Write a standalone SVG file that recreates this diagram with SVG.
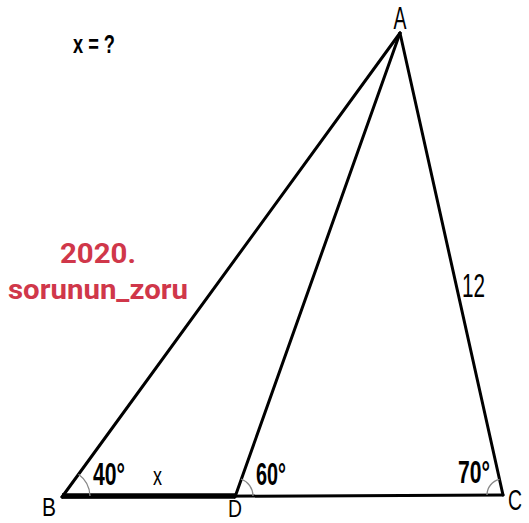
<svg xmlns="http://www.w3.org/2000/svg" width="529" height="523" viewBox="0 0 529 523">
<style>
.ln{stroke:#000;stroke-width:3;fill:none;stroke-linecap:round}
.arc{stroke:#888;stroke-width:1.3;fill:none}
.lbl{font-family:"Liberation Sans",Arial,sans-serif;fill:#000}
.ang{font-family:"Liberation Sans",Arial,sans-serif;font-weight:bold;font-size:31px;fill:#000}
.red{font-family:"Roboto","Liberation Sans",sans-serif;font-weight:bold;font-size:27px;fill:#d0374a}
</style>
<rect width="529" height="523" fill="#fff"/>
<g id="connectors">
<line class="ln" x1="400" y1="33" x2="62" y2="497"/>
<line class="ln" x1="400" y1="33" x2="235" y2="497"/>
<line class="ln" x1="400" y1="33" x2="503" y2="495"/>
<line class="ln" x1="62" y1="497" x2="503" y2="495"/>
<line stroke="#000" stroke-width="5.5" x1="62" y1="496" x2="235" y2="496"/>
</g>
<g id="arcs">
<path class="arc" d="M90 496 A28 28 0 0 0 78.5 474.3"/>
<path class="arc" d="M253 496 A18 18 0 0 0 241 479"/>
<path class="arc" d="M487 495 A16 16 0 0 1 499.5 479.4"/>
</g>
<g id="A"><text class="lbl" x="400" y="29" font-size="31" text-anchor="middle" textLength="13" lengthAdjust="spacingAndGlyphs">A</text></g>
<g id="B"><text class="lbl" x="49" y="516" font-size="25" text-anchor="middle" textLength="14" lengthAdjust="spacingAndGlyphs">B</text></g>
<g id="D"><text class="lbl" x="235" y="517" font-size="23" text-anchor="middle" textLength="14" lengthAdjust="spacingAndGlyphs">D</text></g>
<g id="C"><text class="lbl" x="515" y="510" font-size="30" text-anchor="middle" textLength="14" lengthAdjust="spacingAndGlyphs">C</text></g>
<g id="labels">
<text class="ang" x="93" y="485" textLength="32" lengthAdjust="spacingAndGlyphs">40°</text>
<text class="lbl" x="157.5" y="485" font-size="25" text-anchor="middle" textLength="9" lengthAdjust="spacingAndGlyphs">x</text>
<text class="ang" x="256" y="485" textLength="30" lengthAdjust="spacingAndGlyphs">60°</text>
<text class="ang" x="458" y="483" textLength="32" lengthAdjust="spacingAndGlyphs">70°</text>
<text class="lbl" x="462" y="297" font-size="34" textLength="23" lengthAdjust="spacingAndGlyphs">12</text>
<text class="lbl" x="73" y="53" font-size="25" font-weight="bold" textLength="42" lengthAdjust="spacingAndGlyphs">x = ?</text>
<text class="red" x="98" y="263" text-anchor="middle" textLength="76" lengthAdjust="spacingAndGlyphs">2020.</text>
<text class="red" x="98" y="299" text-anchor="middle" textLength="180" lengthAdjust="spacingAndGlyphs">sorunun_zoru</text>
</g>
</svg>
